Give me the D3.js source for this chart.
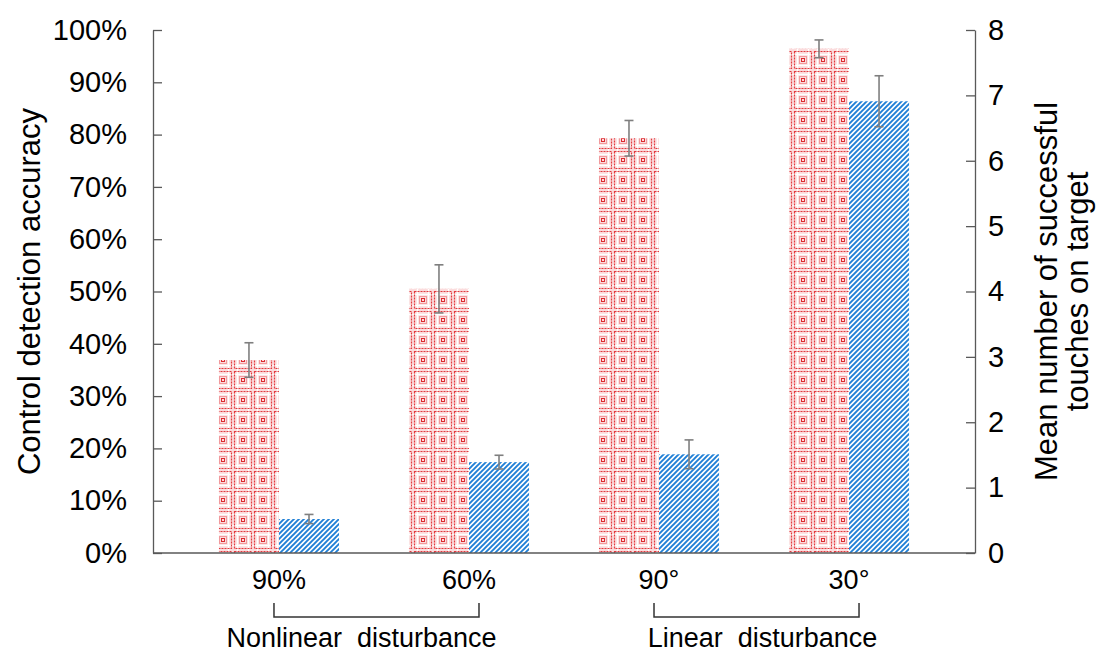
<!DOCTYPE html>
<html>
<head>
<meta charset="utf-8">
<script src="https://cdn.jsdelivr.net/npm/d3@7"></script>
<style>
  body { margin: 0; background: #fff; }
  svg { display: block; font-family: "Liberation Sans", Arial, sans-serif; }
  .axis path, .axis line { stroke: #595959; stroke-width: 1.3; }
  .axis text { fill: #000; font-size: 29px; }
</style>
</head>
<body>
<svg id="chart" width="1100" height="655"></svg>
<script>
const categories = ["90%", "60%", "90°", "30°"];
const groups = [
  { label: "Nonlinear  disturbance", from: "90%", to: "60%" },
  { label: "Linear  disturbance", from: "90°", to: "30°" }
];
// left axis: accuracy (fraction)
const accuracy = [0.369, 0.505, 0.793, 0.964];
const accuracyErr = [0.033, 0.046, 0.034, 0.017];
// right axis: mean successful touches
const touches = [0.52, 1.39, 1.51, 6.91];
const touchesErr = [0.07, 0.105, 0.22, 0.39];
const leftTicks = d3.range(0, 1.01, 0.1);
const rightTicks = d3.range(0, 9, 1);

const margin = { top: 30, right: 125, bottom: 102, left: 153 };
const W = 1100, H = 655;
const innerW = W - margin.left - margin.right;
const innerH = H - margin.top - margin.bottom;

const svg = d3.select("#chart");
const defs = svg.append("defs");

// red lattice pattern
const pr = defs.append("pattern")
  .attr("id", "redPat").attr("patternUnits", "userSpaceOnUse")
  .attr("width", 20).attr("height", 20);
pr.append("rect").attr("width", 20).attr("height", 20).attr("fill", "#fbdcdd");
// white gap lines
pr.append("path").attr("d", "M4.5,0V20M15.5,0V20M0,4.5H20M0,15.5H20")
  .attr("stroke", "#fff").attr("stroke-width", 1.4);
// dotted outer ring
pr.append("rect").attr("x", 1.5).attr("y", 1.5).attr("width", 17).attr("height", 17)
  .attr("fill", "none").attr("stroke", "#e23a3f").attr("stroke-width", 1.2)
  .attr("stroke-dasharray", "2,1");
// dotted inner ring
pr.append("rect").attr("x", 6.5).attr("y", 6.5).attr("width", 7).attr("height", 7)
  .attr("fill", "none").attr("stroke", "#e8585c").attr("stroke-width", 1)
  .attr("stroke-dasharray", "1,1");
// dense core
pr.append("rect").attr("x", 8.5).attr("y", 8.5).attr("width", 3).attr("height", 3)
  .attr("fill", "none").attr("stroke", "#dc2a30").attr("stroke-width", 1);

// blue diagonal stripes
const pb = defs.append("pattern")
  .attr("id", "bluePat").attr("patternUnits", "userSpaceOnUse")
  .attr("width", 5).attr("height", 5);
pb.append("rect").attr("width", 5).attr("height", 5).attr("fill", "#fff");
pb.append("path")
  .attr("d", "M-1,1 L1,-1 M0,5 L5,0 M4,6 L6,4")
  .attr("stroke", "#1f7fd6").attr("stroke-width", 1.9);

const g = svg.append("g").attr("transform", `translate(${margin.left},${margin.top})`);

const x = d3.scaleBand().domain(categories).range([0, innerW])
  .paddingInner(0.368).paddingOuter(0.347);
const xs = d3.scaleBand().domain(["acc", "touch"]).range([0, x.bandwidth()]);
const yL = d3.scaleLinear().domain([0, 1]).range([innerH, 0]);
const yR = d3.scaleLinear().domain([0, 8]).range([innerH, 0]);

// bars
const bars = categories.map((c, i) => [
  { cat: c, key: "acc", v: accuracy[i], e: accuracyErr[i], y: yL, fill: "url(#redPat)" },
  { cat: c, key: "touch", v: touches[i], e: touchesErr[i], y: yR, fill: "url(#bluePat)" }
]).flat();

g.append("g").selectAll("rect").data(bars).join("rect")
  .attr("x", d => x(d.cat) + xs(d.key))
  .attr("width", xs.bandwidth())
  .attr("y", d => d.y(d.v))
  .attr("height", d => innerH - d.y(d.v))
  .attr("fill", d => d.fill);

// error bars
const eg = g.append("g").attr("stroke", "#7f7f7f").attr("stroke-width", 1.6);
bars.forEach(d => {
  const cx = x(d.cat) + xs(d.key) + xs.bandwidth() / 2;
  const y0 = d.y(d.v - d.e), y1 = d.y(d.v + d.e);
  eg.append("line").attr("x1", cx).attr("x2", cx).attr("y1", y0).attr("y2", y1);
  eg.append("line").attr("x1", cx - 4.5).attr("x2", cx + 4.5).attr("y1", y0).attr("y2", y0);
  eg.append("line").attr("x1", cx - 4.5).attr("x2", cx + 4.5).attr("y1", y1).attr("y2", y1);
});

// axes
g.append("g").attr("class", "axis")
  .call(d3.axisLeft(yL).tickValues(leftTicks).tickFormat(d3.format(".0%"))
    .tickSizeInner(-9).tickSizeOuter(0).tickPadding(26));
g.append("g").attr("class", "axis").attr("transform", `translate(${innerW},0)`)
  .call(d3.axisRight(yR).tickValues(rightTicks).tickFormat(d3.format("d"))
    .tickSizeInner(-9).tickSizeOuter(0).tickPadding(13));
g.append("line").attr("x1", 0).attr("x2", innerW).attr("y1", innerH).attr("y2", innerH)
  .attr("stroke", "#595959").attr("stroke-width", 1.3);

// category labels
g.append("g").selectAll("text").data(categories).join("text")
  .attr("x", d => x(d) + x.bandwidth() / 2)
  .attr("y", innerH + 36)
  .attr("text-anchor", "middle")
  .attr("font-size", 27)
  .text(d => d);

// group brackets
const bg = g.append("g");
const labelShift = [-15, 6];
groups.forEach((gr, i) => {
  const a = x(gr.from) + x.bandwidth() / 2 - 5;
  const b = x(gr.to) + x.bandwidth() / 2 + 10;
  const top = innerH + 50, bot = innerH + 64;
  bg.append("path")
    .attr("d", `M${a},${top} V${bot} H${b} V${top}`)
    .attr("fill", "none").attr("stroke", "#333").attr("stroke-width", 1.5);
  bg.append("text")
    .attr("x", (a + b) / 2 + labelShift[i]).attr("y", innerH + 94)
    .attr("text-anchor", "middle").attr("font-size", 27)
    .style("white-space", "pre").attr("xml:space", "preserve")
    .text(gr.label);
});

// axis titles
svg.append("text")
  .attr("transform", `translate(40,${margin.top + innerH / 2}) rotate(-90)`)
  .attr("text-anchor", "middle").attr("font-size", 31)
  .text("Control detection accuracy");
const rt = svg.append("text")
  .attr("transform", `translate(1057,${margin.top + innerH / 2}) rotate(-90)`)
  .attr("text-anchor", "middle").attr("font-size", 31);
rt.append("tspan").attr("x", 0).attr("dy", 0).text("Mean number of successful");
rt.append("tspan").attr("x", 0).attr("dy", 31).text("touches on target");
</script>
</body>
</html>
